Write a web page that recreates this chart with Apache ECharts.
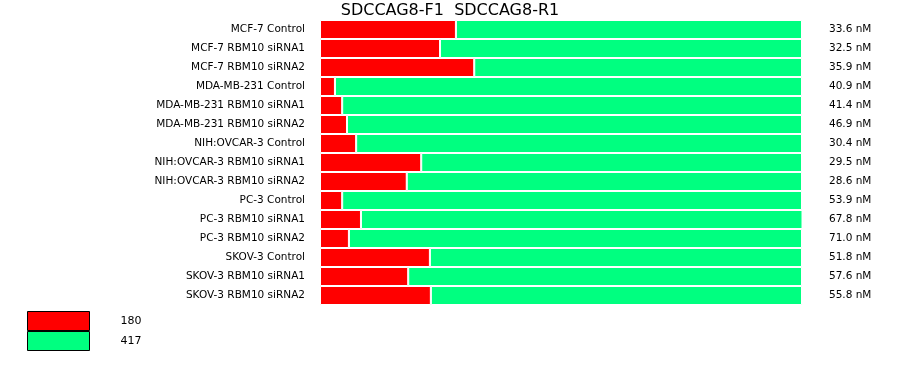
<!DOCTYPE html>
<html><head><meta charset="utf-8">
<script src="https://cdn.jsdelivr.net/npm/echarts@6/dist/echarts.min.js"></script>
<style>html,body{margin:0;padding:0;background:#fff}#c{width:900px;height:375px}</style>
</head><body><div id="c"></div>
<script>
const categories = ["MCF-7 Control","MCF-7 RBM10 siRNA1","MCF-7 RBM10 siRNA2","MDA-MB-231 Control","MDA-MB-231 RBM10 siRNA1","MDA-MB-231 RBM10 siRNA2","NIH:OVCAR-3 Control","NIH:OVCAR-3 RBM10 siRNA1","NIH:OVCAR-3 RBM10 siRNA2","PC-3 Control","PC-3 RBM10 siRNA1","PC-3 RBM10 siRNA2","SKOV-3 Control","SKOV-3 RBM10 siRNA1","SKOV-3 RBM10 siRNA2"];
const concentrations = ["33.6 nM","32.5 nM","35.9 nM","40.9 nM","41.4 nM","46.9 nM","30.4 nM","29.5 nM","28.6 nM","53.9 nM","67.8 nM","71.0 nM","51.8 nM","57.6 nM","55.8 nM"];
const series180 = [28.2,24.9,32.0,3.1,4.6,5.6,7.5,21.0,18.0,4.6,8.5,6.0,22.8,18.3,23.0];
const series417 = [71.8,75.1,68.0,96.9,95.4,94.4,92.5,79.0,82.0,95.4,91.7,94.0,77.2,81.7,77.0];
const seriesNames = ["180","417"];
const colors = ["#ff0000","#00ff80"];
const font = "DejaVu Sans";

const chart = echarts.init(document.getElementById('c'));
chart.setOption({
  animation:false,
  title:{text:"SDCCAG8-F1  SDCCAG8-R1",left:'center',top:-2,textStyle:{fontFamily:font,fontSize:16,fontWeight:'normal',color:'#000'}},
  grid:{left:320,right:98,top:20,bottom:70,containLabel:false},
  legend:{orient:'vertical',left:27,top:311,padding:0,itemWidth:62,itemHeight:19,itemGap:0,icon:'rect',
    data:seriesNames.map((n,i)=>({name:n,itemStyle:{color:colors[i],borderColor:'#000',borderWidth:1}})),
    textStyle:{fontFamily:font,fontSize:11,color:'#000',padding:[0,0,0,26]}},
  xAxis:{type:'value',min:0,max:100,show:false},
  yAxis:[
    {type:'category',data:categories,inverse:true,axisLine:{show:false},axisTick:{show:false},
     axisLabel:{fontFamily:font,fontSize:10.5,color:'#000',margin:15}},
    {type:'category',data:categories,inverse:true,position:'right',axisLine:{show:false},axisTick:{show:false},
     axisLabel:{fontFamily:font,fontSize:10.5,color:'#000',margin:27,align:'left',formatter:(v,i)=>concentrations[i]}}
  ],
  series:[
    {name:seriesNames[0],type:'bar',stack:'s',data:series180,barCategoryGap:0,barWidth:'100%',itemStyle:{color:colors[0],borderColor:'#fff',borderWidth:1}},
    {name:seriesNames[1],type:'bar',stack:'s',data:series417,barCategoryGap:0,barWidth:'100%',itemStyle:{color:colors[1],borderColor:'#fff',borderWidth:1}}
  ]
});
</script></body></html>
